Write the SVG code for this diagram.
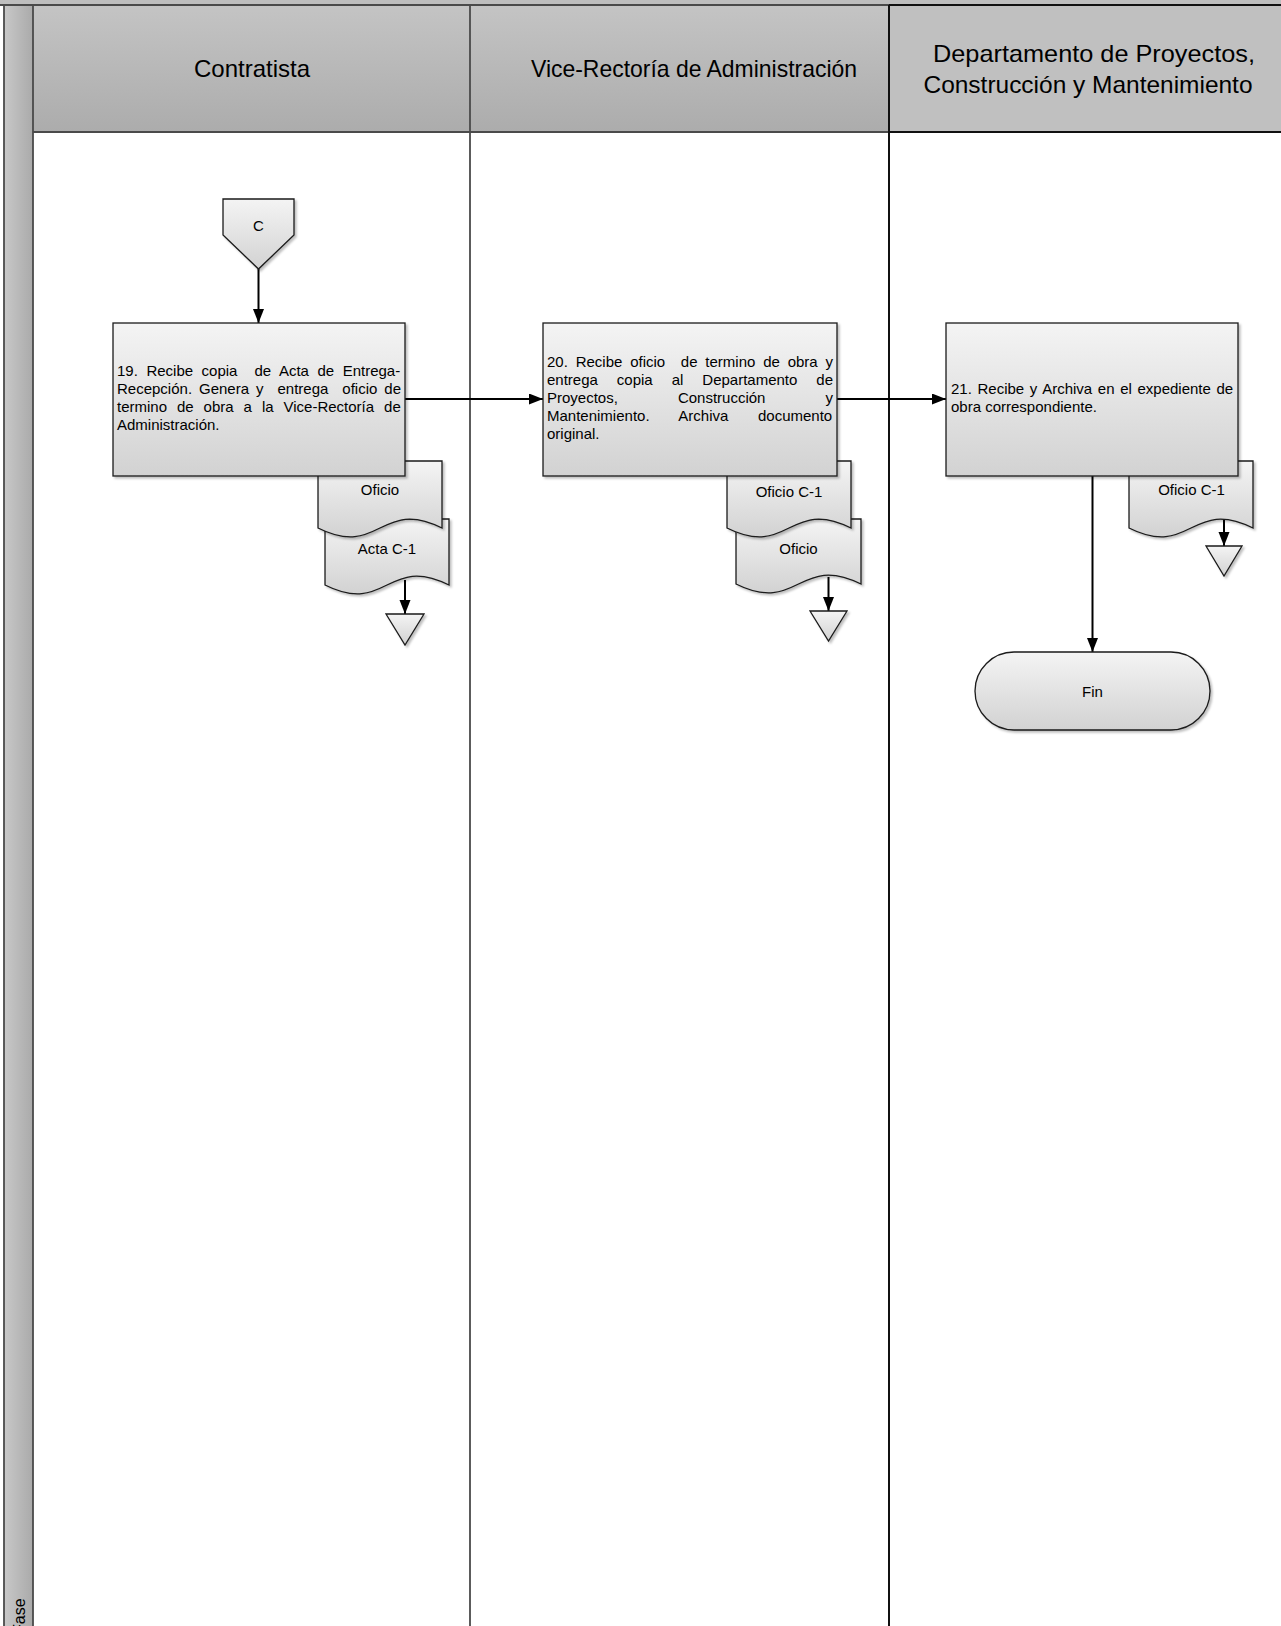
<svg xmlns="http://www.w3.org/2000/svg" width="1281" height="1626" viewBox="0 0 1281 1626">
<style>
  .lbl{font-family:"Liberation Sans",Arial,sans-serif;fill:#000}
  .hdr{font-size:24px;text-anchor:middle}
  .body{font-size:15px}
  .mid{font-size:15px;text-anchor:middle}
  .shape{fill:url(#gShape);stroke:#1a1a1a;stroke-width:1.3;filter:url(#sh)}
  .conn{fill:none;stroke:#000;stroke-width:2;marker-end:url(#arr)}
  .grid{stroke:#4a4a4a;stroke-width:1.8;fill:none}
  .gridd{stroke:#111;stroke-width:2;fill:none}
</style>
<defs>
  <linearGradient id="gShape" x1="0" y1="0" x2="0" y2="1">
    <stop offset="0" stop-color="#f4f4f4"/>
    <stop offset="1" stop-color="#d2d2d2"/>
  </linearGradient>
  <linearGradient id="gHdr" x1="0" y1="0" x2="0" y2="1">
    <stop offset="0" stop-color="#c4c4c4"/>
    <stop offset="1" stop-color="#acacac"/>
  </linearGradient>
  <linearGradient id="gPhase" x1="0" y1="0" x2="1" y2="0">
    <stop offset="0" stop-color="#c8c8c8"/>
    <stop offset="1" stop-color="#aaaaaa"/>
  </linearGradient>
  <filter id="sh" x="-10%" y="-10%" width="130%" height="130%">
    <feDropShadow dx="2" dy="2" stdDeviation="1.2" flood-color="#000" flood-opacity="0.25"/>
  </filter>
  <marker id="arr" markerUnits="userSpaceOnUse" markerWidth="16" markerHeight="12" refX="14" refY="5.5" orient="auto">
    <path d="M0,0 L14,5.5 L0,11 Z" fill="#000"/>
  </marker>
</defs>

<g id="background">
  <rect x="0" y="0" width="1281" height="1626" fill="#ffffff"/>
  <rect x="0" y="0" width="1281" height="5" fill="#bebebe"/>
  <rect x="4" y="5" width="29" height="1621" fill="url(#gPhase)"/>
  <rect x="33" y="5" width="437" height="127" fill="url(#gHdr)"/>
  <rect x="470" y="5" width="419" height="127" fill="url(#gHdr)"/>
  <rect x="889" y="5" width="392" height="127" fill="#c0c0c0"/>
  <line class="grid" x1="0" y1="5" x2="889" y2="5"/>
  <line class="gridd" x1="889" y1="5" x2="1281" y2="5"/>
  <line class="grid" x1="4" y1="5" x2="4" y2="1626"/>
  <line class="grid" x1="33" y1="5" x2="33" y2="1626"/>
  <line class="grid" x1="33" y1="132" x2="889" y2="132"/>
  <line class="gridd" x1="889" y1="132" x2="1281" y2="132"/>
  <line class="grid" x1="470" y1="5" x2="470" y2="1626"/>
  <line class="gridd" x1="889" y1="5" x2="889" y2="1626"/>
  <text class="lbl" x="25" y="1634" font-size="16" transform="rotate(-90 25 1634)">Fase</text>
</g>

<g id="lane-headers">
  <text class="lbl hdr" x="252" y="77">Contratista</text>
  <text class="lbl hdr" x="694" y="77" textLength="326" lengthAdjust="spacingAndGlyphs">Vice-Rectoría de Administración</text>
  <text class="lbl hdr" x="1094" y="61.5" textLength="322" lengthAdjust="spacingAndGlyphs">Departamento de Proyectos,</text>
  <text class="lbl hdr" x="1088" y="92.5" textLength="329" lengthAdjust="spacingAndGlyphs">Construcción y Mantenimiento</text>
</g>

<g id="connectors">
  <line class="conn" x1="258.5" y1="269" x2="258.5" y2="323"/>
  <line class="conn" x1="405" y1="399" x2="543" y2="399"/>
  <line class="conn" x1="837" y1="399" x2="946" y2="399"/>
  <line class="conn" x1="1092.5" y1="476" x2="1092.5" y2="652"/>
  <line class="conn" x1="405" y1="580" x2="405" y2="614"/>
  <line class="conn" x1="828.5" y1="577" x2="828.5" y2="611"/>
  <line class="conn" x1="1224" y1="520" x2="1224" y2="546"/>
</g>

<g id="offpage-C">
  <path class="shape" d="M223,199 H294 V235 L258.5,269 L223,235 Z"/>
  <text class="lbl mid" x="258.5" y="230.5">C</text>
</g>

<g id="doc-acta-c1">
  <path class="shape" d="M325,519 H449 V585 C387,554 387,616 325,585 Z"/>
  <text class="lbl mid" x="387" y="553.5">Acta C-1</text>
</g>
<g id="doc-oficio-19">
  <path class="shape" d="M318,461 H442 V528 C380,497 380,559 318,528 Z"/>
  <text class="lbl mid" x="380" y="495">Oficio</text>
</g>

<g id="step-19">
  <rect class="shape" x="113" y="323" width="292" height="153"/>
  <text class="lbl body" xml:space="preserve"><tspan x="117" y="376.3" word-spacing="4.36">19. Recibe copia  de Acta de Entrega-</tspan><tspan x="117" y="394.3" word-spacing="2.81">Recepción. Genera y  entrega  oficio de</tspan><tspan x="117" y="412.3" word-spacing="5.79">termino de obra a la Vice-Rectoría de</tspan><tspan x="117" y="430.3">Administración.</tspan></text>
</g>

<g id="doc-oficio-20">
  <path class="shape" d="M736,519 H861 V584 C798.5,553 798.5,615 736,584 Z"/>
  <text class="lbl mid" x="798.5" y="553.5">Oficio</text>
</g>
<g id="doc-oficio-c1-20">
  <path class="shape" d="M727,461 H851 V528 C789,497 789,559 727,528 Z"/>
  <text class="lbl mid" x="789" y="497">Oficio C-1</text>
</g>

<g id="step-20">
  <rect class="shape" x="543" y="323" width="294" height="153"/>
  <text class="lbl body" xml:space="preserve"><tspan x="547" y="367.3" word-spacing="3.65">20. Recibe oficio  de termino de obra y</tspan><tspan x="547" y="385.3" word-spacing="14.8">entrega copia al Departamento de</tspan><tspan x="547" y="403.3" word-spacing="55.89">Proyectos, Construcción y</tspan><tspan x="547" y="421.3" word-spacing="25.45">Mantenimiento. Archiva documento</tspan><tspan x="547" y="439.3">original.</tspan></text>
</g>

<g id="doc-oficio-c1-21">
  <path class="shape" d="M1129,461 H1253 V528 C1191,497 1191,559 1129,528 Z"/>
  <text class="lbl mid" x="1191.5" y="495">Oficio C-1</text>
</g>

<g id="step-21">
  <rect class="shape" x="946" y="323" width="292" height="153"/>
  <text class="lbl body" xml:space="preserve"><tspan x="951" y="394.3" word-spacing="1.48">21. Recibe y Archiva en el expediente de</tspan><tspan x="951" y="412.3">obra correspondiente.</tspan></text>
</g>

<g id="merge-1">
  <path class="shape" d="M386,614 H424 L405,645 Z"/>
</g>
<g id="merge-2">
  <path class="shape" d="M810,611 H847 L828.5,641 Z"/>
</g>
<g id="merge-3">
  <path class="shape" d="M1206,546 H1242 L1224,576 Z"/>
</g>

<g id="end-fin">
  <rect class="shape" x="975" y="652" width="235" height="78" rx="39" ry="39"/>
  <text class="lbl mid" x="1092.5" y="697">Fin</text>
</g>
</svg>
